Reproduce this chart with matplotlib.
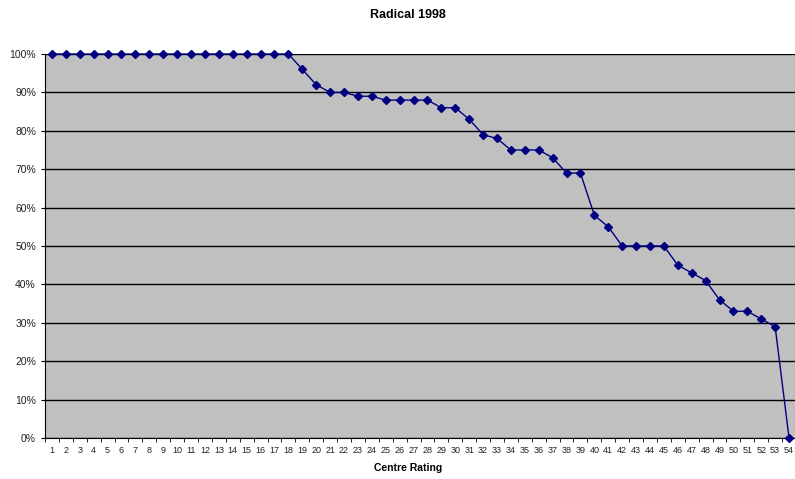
import numpy as np
import matplotlib.pyplot as plt
from matplotlib.ticker import PercentFormatter

plt.rcParams['font.family'] = ['Liberation Sans', 'DejaVu Sans']

ratings = list(range(1, 55))
pct = [100] * 18 + [96, 92, 90, 90, 89, 89, 88, 88, 88, 88, 86, 86, 83, 79, 78,
                    75, 75, 75, 73, 69, 69, 58, 55, 50, 50, 50, 50, 45, 43, 41,
                    36, 33, 33, 31, 29, 0]

fig = plt.figure(figsize=(7.95, 4.79), dpi=100)
ax = fig.add_axes([45 / 795, 41 / 479, 751 / 795, 384 / 479])
ax.set_facecolor('#c0c0c0')

ax.plot(ratings, pct, color='#000080', lw=1, marker='D', ms=4, zorder=3,
        clip_on=False)

ax.set_xlim(0.5, 54.5)
ax.set_ylim(0, 100)
ax.set_yticks(np.arange(0, 101, 10))
ax.yaxis.set_major_formatter(PercentFormatter(decimals=0))
ax.grid(axis='y', color='black', lw=1)
ax.set_axisbelow(True)

ax.set_xticks(ratings)
ax.set_xticks(np.arange(0.5, 55, 1), minor=True)
ax.tick_params(axis='x', which='major', length=0, labelsize=6.5, pad=6,
               labelcolor='#222222')
ax.tick_params(axis='x', which='minor', length=3, direction='out')
ax.tick_params(axis='y', length=3, labelsize=7.5, direction='out',
               labelcolor='#222222')

for s in ['top', 'right']:
    ax.spines[s].set_visible(False)

# title and axis label sit centred on the whole chart area
fig.text(408 / 795, 1 - 15 / 479, 'Radical 1998', fontsize=9,
         fontweight='bold', ha='center', va='center')
fig.text(408 / 795, 1 - 468 / 479, 'Centre Rating', fontsize=7.5,
         fontweight='bold', ha='center', va='center')

fig.savefig('out.png', dpi=100)
